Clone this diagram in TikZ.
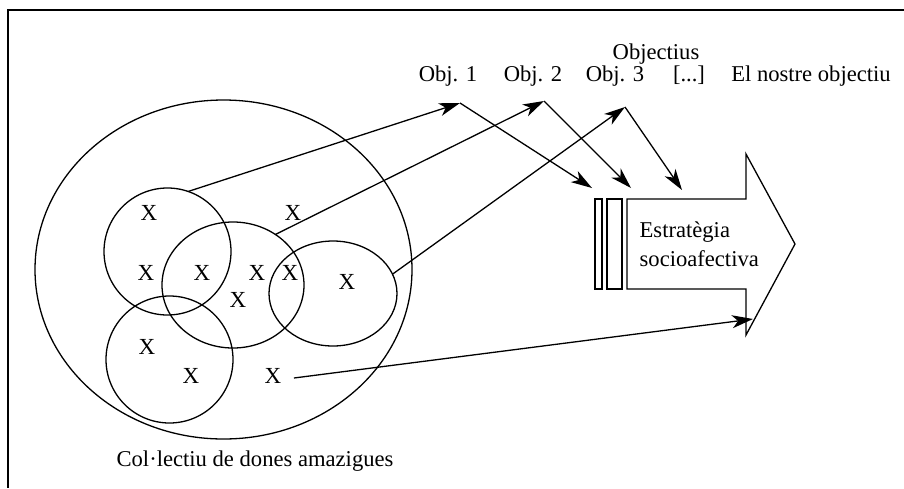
\documentclass[tikz,border=0pt]{standalone}
\usepackage{fontspec}
\setmainfont{Liberation Serif}
\usetikzlibrary{arrows.meta,shapes.geometric}
\begin{document}
\begin{tikzpicture}[x=0.5pt,y=-0.5pt,
  line width=0.65pt,
  txt/.style={font=\fontsize{11.3}{13}\selectfont, inner sep=0pt},
  xlab/.style={font=\fontsize{11.5}{13}\selectfont, inner sep=0pt},
  ring/.style={draw, ellipse, inner sep=0pt, outer sep=0pt},
  arr/.style={-{Stealth[length=10.5pt,width=6.5pt,inset=3pt]}}]
\useasboundingbox (0,0) rectangle (904,488);
% frame
\draw (904,10) -- (8,10) -- (8,488);
% sets
\node[ring, minimum width=188.5pt, minimum height=169.5pt] (big) at (223.5,269.5) {};
\node[ring, minimum width=63.5pt, minimum height=63.5pt] (A) at (167.5,251.5) {};
\node[ring, minimum width=71pt, minimum height=63pt] (B) at (233,285) {};
\node[ring, minimum width=64pt, minimum height=52.5pt] (C) at (333,293.5) {};
\node[ring, minimum width=63.5pt, minimum height=63.5pt] (D) at (169.5,359.5) {};
% X marks
\node[xlab] (x1) at (149,213) {X};
\node[xlab] (x2) at (293,213) {X};
\node[xlab] (x3) at (146,273) {X};
\node[xlab] (x4) at (202,273) {X};
\node[xlab] (x5) at (257,273) {X};
\node[xlab] (x6) at (290,273) {X};
\node[xlab] (x7) at (347,282) {X};
\node[xlab] (x8) at (238,300) {X};
\node[xlab] (x9) at (147,347) {X};
\node[xlab] (x10) at (191,376) {X};
\node[xlab] (x11) at (273,376) {X};
\node[txt, anchor=base] (coll) at (255,466) {Col·lectiu de dones amazigues};
% objectives
\node[txt, anchor=base] (objs) at (656,59) {Objectius};
\node[txt, anchor=base] (o1) at (448,81) {Obj. 1};
\node[txt, anchor=base] (o2) at (533,81) {Obj. 2};
\node[txt, anchor=base] (o3) at (615,81) {Obj. 3};
\node[txt, anchor=base] (o4) at (689,81) {[...]};
\node[txt, anchor=base] (o5) at (811,81) {El nostre objectiu};
% strategy arrow
\draw (627,199) -- (746,199) -- (746,154) -- (795,244) -- (746,335) -- (746,289) -- (627,289) -- cycle;
\draw (595,199) rectangle (602,289);
\draw (607,199) rectangle (622,289);
\node[txt, anchor=base west] (estr) at (639,237) {Estratègia};
\node[txt, anchor=base west] (soc) at (639,266) {socioafectiva};
% coordinates
\coordinate (p1) at (460,103);
\coordinate (p2) at (544,101);
\coordinate (p3) at (625,107);
\coordinate (t1) at (592,188);
\coordinate (t2) at (631,188);
\coordinate (t3) at (682,190);
\coordinate (t4) at (753,319);
% connectors
\draw[arr] (A.71) -- (p1);
\draw[arr] (B.50) -- (p2);
\draw[arr] (C.18) -- (p3);
\draw[arr] (p1) -- (t1);
\draw[arr] (p2) -- (t2);
\draw[arr] (p3) -- (t3);
\draw[arr] ([xshift=6pt,yshift=-1pt]x11.east) -- (t4);
\end{tikzpicture}
\end{document}
